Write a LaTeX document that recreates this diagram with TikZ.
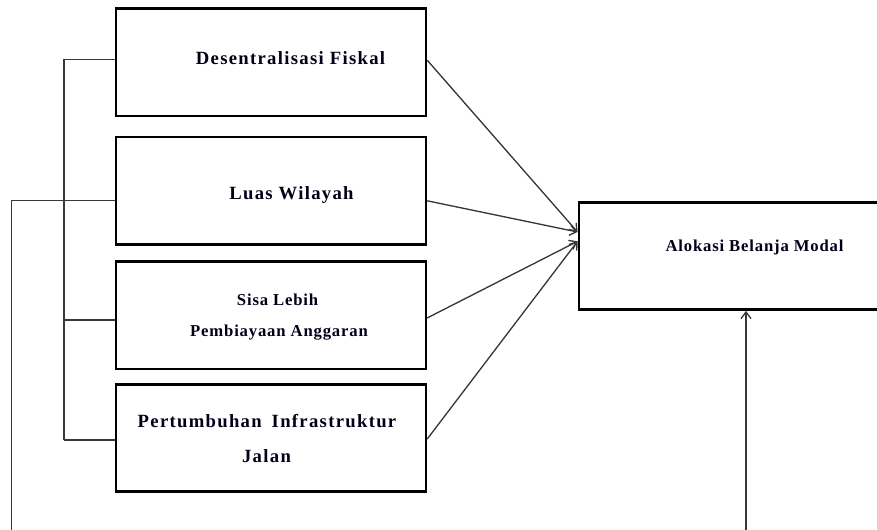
\documentclass[tikz,border=0pt]{standalone}
\usepackage{fontspec}
\setmainfont{Liberation Serif}
\usetikzlibrary{arrows.meta,calc}
\begin{document}
\begin{tikzpicture}[x=0.75pt,y=-0.75pt,
  box/.style={draw=black,line width=1.8pt,fill=none,inner sep=0pt,minimum width=232.5pt,minimum height=80.5pt},
  conn/.style={draw=black!78,line width=1pt},
  arr/.style={conn,-{Straight Barb[length=5pt,width=7.5pt]}},
  big/.style={inner sep=0pt,anchor=base,text=black!90!blue,font=\fontsize{14pt}{16pt}\selectfont\bfseries\addfontfeature{LetterSpace=7}},
  small/.style={inner sep=0pt,anchor=base,text=black!90!blue,font=\fontsize{12.5pt}{15pt}\selectfont\bfseries\addfontfeature{LetterSpace=5}}]
\useasboundingbox (0,0) rectangle (877,530);
% boxes
\node[box] (B1) at (271,62.2) {};
\node[box] (B2) at (271,190.8) {};
\node[box] (B3) at (271,315.3) {};
\node[box] (B4) at (271,438) {};
\node[box,minimum width=226pt] (R) at (729.4,256) {};
% texts
\node[big] (t1) at (290.5,65) {Desentralisasi Fiskal};
\node[big] (t2) at (291.5,200) {Luas Wilayah};
\node[small] (t3a) at (277.6,305.7) {Sisa Lebih};
\node[small] (t3b) at (279,336.7) {Pembiayaan Anggaran};
\node[big] (t4a) at (267,427.7) {Pertumbuhan\hspace{3pt} Infrastruktur};
\node[big] (t4b) at (266.5,462.7) {Jalan};
\node[small] (t5) at (754.5,251.7) {Alokasi Belanja Modal};
% bracket junctions
\coordinate (j1) at (64,59.3);
\coordinate (j2) at (64,200.7);
\coordinate (j3) at (64,320);
\coordinate (j4) at (64,440);
\coordinate (o1) at (11.7,200.7);
\coordinate (o2) at (11.7,535);
\coordinate (o3) at (746,535);
\draw[conn] (j1) -- (j4);
\draw[conn] (j1) -- (j1 -| B1.west);
\draw[conn] (j2) -- (j2 -| B2.west);
\draw[conn] (j3) -- (j3 -| B3.west);
\draw[conn] (j4) -- (j4 -| B4.west);
\draw[conn] (o2) -- (o1) -- (j2);
\draw[arr] (o3) -- (o3 |- R.south);
% arrows to dependent box
\draw[arr] ([yshift=1.5pt]B1.east) -- ([yshift=18pt]R.west);
\draw[arr] ([yshift=-7.5pt]B2.east) -- ([yshift=18pt]R.west);
\draw[arr] ([yshift=-2pt]B3.east) -- ([yshift=11pt]R.west);
\draw[arr] ([yshift=-0.8pt]B4.east) -- ([yshift=11pt]R.west);
\end{tikzpicture}
\end{document}
